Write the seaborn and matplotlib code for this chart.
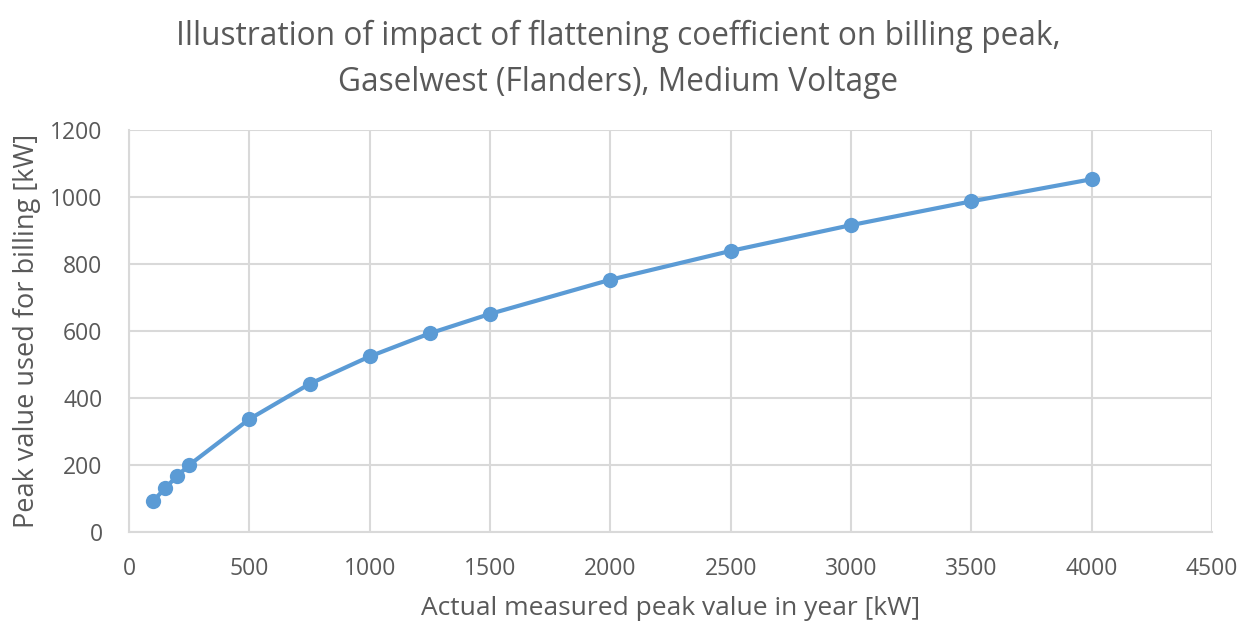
import matplotlib
matplotlib.use("Agg")
import matplotlib.pyplot as plt
import seaborn as sns
import pandas as pd

# Measured peak vs. billed peak (Gaselwest, MV)
measured_kw = [100, 150, 200, 250, 500, 750, 1000, 1250, 1500, 2000, 2500, 3000, 3500, 4000]
billed_kw = [92, 131, 167, 200, 337, 442, 524, 593, 651, 753, 839, 916, 987, 1053]

x_ticks = [0, 500, 1000, 1500, 2000, 2500, 3000, 3500, 4000, 4500]
y_ticks = [0, 200, 400, 600, 800, 1000, 1200]

title = "Illustration of impact of flattening coefficient on billing peak,\nGaselwest (Flanders), Medium Voltage"
x_label = "Actual measured peak value in year [kW]"
y_label = "Peak value used for billing [kW]"

sns.set_theme(style="whitegrid")
plt.rcParams["font.family"] = ["Open Sans", "DejaVu Sans"]

text_color = "#595959"
grid_color = "#d9d9d9"
line_color = "#5b9bd5"

df = pd.DataFrame({"measured": measured_kw, "billed": billed_kw})

fig = plt.figure(figsize=(12.44, 6.24), dpi=100)
ax = fig.add_axes([0.1037, 0.1474, 0.8706, 0.6443])

sns.lineplot(data=df, x="measured", y="billed", ax=ax, color=line_color,
             linewidth=3, marker="o", markersize=11, markeredgewidth=0,
             markeredgecolor=line_color)

ax.set_xlim(x_ticks[0], x_ticks[-1])
ax.set_ylim(y_ticks[0], y_ticks[-1])
ax.set_xticks(x_ticks)
ax.set_yticks(y_ticks)
ax.grid(True, color=grid_color, linewidth=1.5)
for side, spine in ax.spines.items():
    spine.set_visible(side in ("left", "bottom"))
    spine.set_color(grid_color)
    spine.set_linewidth(1.5)
ax.tick_params(axis="both", colors=text_color, labelsize=16.5, length=0)
ax.tick_params(axis="x", pad=18)
ax.tick_params(axis="y", pad=19)

ax.set_xlabel(x_label, fontsize=19, color=text_color, labelpad=11)
ax.set_ylabel(y_label, fontsize=19.5, color=text_color, labelpad=7)
fig.text(0.497, 0.968, title, ha="center", va="top", fontsize=22.8,
         color=text_color, linespacing=1.5)

fig.savefig("out.png", dpi=100, facecolor="white")
